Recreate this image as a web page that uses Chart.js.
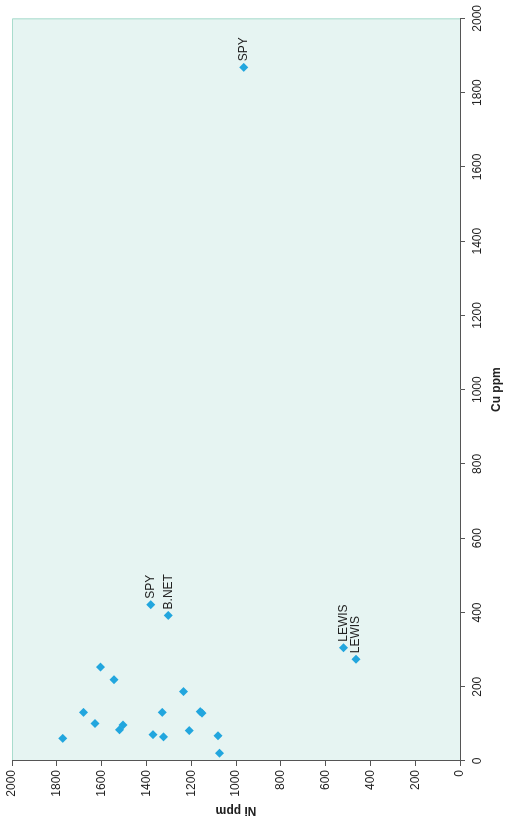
<!DOCTYPE html>
<html lang="en">
<head>
    <!-- Load Chart.js -->
    <script src="https://cdn.jsdelivr.net/npm/chart.js"></script>
    <meta charset="UTF-8">
    <title>Cu vs Ni</title>
    <style>
        body {
            margin: 0;
            background: #ffffff;
            width: 507px;
            height: 827px;
            overflow: hidden;
        }

        /* The chart is laid out landscape and turned onto the portrait page */
        .chart-container {
            position: absolute;
            left: 0;
            top: 0;
            width: 827px;
            height: 507px;
            transform-origin: 0 0;
            transform: translateY(827px) rotate(-90deg);
        }
    </style>
</head>
<body>
    <div class="chart-container">
        <canvas id="myChart" width="827" height="507"></canvas>
    </div>

    <script>
        // Sample assays: copper and nickel in ppm, with a site name where one is marked
        const cuPpm = [1868, 421, 392, 305, 274,
                       253, 219, 187, 131, 131, 133, 129, 101, 97, 84, 61, 71, 65, 82, 68, 21];
        const niPpm = [965, 1381, 1302, 520, 464,
                       1605, 1545, 1234, 1681, 1329, 1160, 1152, 1630, 1505, 1520, 1773, 1370, 1324, 1209, 1080, 1074];
        const siteLabels = ['SPY', 'SPY', 'B.NET', 'LEWIS', 'LEWIS',
                            '', '', '', '', '', '', '', '', '', '', '', '', '', '', '', ''];

        const axisMin = 0;
        const axisMax = 2000;
        const axisStep = 200;

        const points = cuPpm.map((cu, i) => ({x: cu, y: niPpm[i]}));

        Chart.defaults.font.family = '"Liberation Sans", Arial, sans-serif';
        Chart.defaults.font.size = 12;
        Chart.defaults.color = '#222';

        // Tinted plot area with a thin frame on the open sides
        const plotBackground = {
            id: 'plotBackground',
            beforeDraw(chart) {
                const {ctx, chartArea: a} = chart;
                ctx.save();
                ctx.fillStyle = '#e6f4f2';
                ctx.fillRect(a.left, a.top, a.right - a.left, a.bottom - a.top);
                ctx.strokeStyle = '#a9dccd';
                ctx.lineWidth = 1;
                ctx.beginPath();
                ctx.moveTo(a.left, a.top + 0.5);
                ctx.lineTo(a.right - 0.5, a.top + 0.5);
                ctx.lineTo(a.right - 0.5, a.bottom);
                ctx.stroke();
                ctx.restore();
            }
        };

        // Site names written to the right of their points
        const pointNames = {
            id: 'pointNames',
            afterDatasetsDraw(chart) {
                const {ctx} = chart;
                const meta = chart.getDatasetMeta(0);
                ctx.save();
                ctx.font = '12px "Liberation Sans", Arial, sans-serif';
                ctx.fillStyle = '#222';
                ctx.textAlign = 'left';
                ctx.textBaseline = 'middle';
                meta.data.forEach((el, i) => {
                    if (siteLabels[i]) {
                        ctx.fillText(siteLabels[i], el.x + 6, el.y);
                    }
                });
                ctx.restore();
            }
        };

        const axisStyle = (title, titlePadding) => ({
            type: 'linear',
            min: axisMin,
            max: axisMax,
            ticks: {
                stepSize: axisStep,
                padding: 4,
                color: '#222',
                callback: value => String(value)  // plain numbers, no thousands comma
            },
            grid: {
                drawOnChartArea: false,
                tickLength: 5,
                color: '#555'
            },
            border: {
                color: '#555',
                width: 1
            },
            title: {
                display: true,
                text: title,
                color: '#222',
                font: {size: 12, weight: 'bold'},
                padding: titlePadding
            }
        });

        const xScale = axisStyle('Cu ppm', {top: 4, bottom: 3});
        xScale.position = 'bottom';
        xScale.ticks.padding = 5;
        xScale.afterFit = scale => { scale.height = 47; };

        const yScale = axisStyle('Ni ppm', {top: 9, bottom: 4});
        yScale.position = 'left';
        yScale.afterFit = scale => { scale.width = 66; };

        const ctx = document.getElementById('myChart').getContext('2d');
        new Chart(ctx, {
            type: 'scatter',
            data: {
                datasets: [{
                    label: 'Samples',
                    data: points,
                    pointStyle: 'rectRot',
                    pointRadius: 4.5,
                    pointHoverRadius: 4.5,
                    backgroundColor: '#22a6de',
                    borderColor: '#22a6de',
                    borderWidth: 0
                }]
            },
            options: {
                responsive: false,
                animation: false,
                devicePixelRatio: 1,
                layout: {
                    padding: {top: 12, right: 17, bottom: 0, left: 0}
                },
                plugins: {
                    legend: {display: false},
                    tooltip: {enabled: false}
                },
                scales: {
                    x: xScale,
                    y: yScale
                }
            },
            plugins: [plotBackground, pointNames]
        });
    </script>
</body>
</html>
